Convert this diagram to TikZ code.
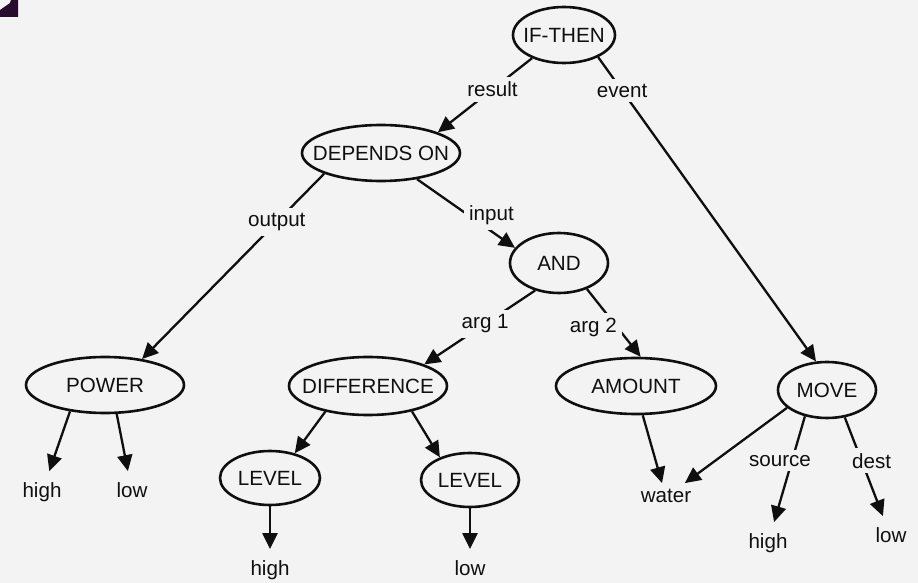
\documentclass[tikz,border=0pt]{standalone}
\usepackage{fontspec}
\setmainfont{Liberation Sans}
\usetikzlibrary{shapes.geometric,arrows.meta}
\definecolor{bgc}{RGB}{243,243,243}
\definecolor{inkc}{RGB}{15,15,15}
\definecolor{blobc}{RGB}{40,12,45}
\newcommand{\mkzero}[1]{\makebox[0pt]{#1}}
\begin{document}
\begin{tikzpicture}[x=0.5pt,y=-0.5pt,font=\fontsize{10.3}{12}\selectfont,
  ell/.style={ellipse,draw=inkc,line width=1.3pt,inner sep=0pt,text=inkc},
  lbl/.style={fill=bgc,inner sep=2.5pt,text=inkc},
  leaf/.style={inner sep=5.5pt,text height=7.5pt,text depth=2pt,text=inkc},
  arr/.style={draw=inkc,line width=1.15pt,-{Triangle[length=8pt,width=7.5pt]}}]
\fill[bgc] (0,0) rectangle (918,583);
\useasboundingbox (0,0) rectangle (918,583);
% scan fragment in the corner
\fill[blobc] (0,17) -- (0,10) -- (10,3) -- (11,0) -- (18,0) -- (18,17) -- cycle;

% concept nodes
\node[ell,minimum width=51pt,minimum height=28pt] (ifthen) at (564,35) {\mkzero{IF-THEN}};
\node[ell,minimum width=79pt,minimum height=28pt] (dep) at (381,153) {\mkzero{DEPENDS ON}};
\node[ell,minimum width=49pt,minimum height=30pt] (and) at (559,263) {\mkzero{AND}};
\node[ell,minimum width=79pt,minimum height=28pt] (power) at (105,385) {\mkzero{POWER}};
\node[ell,minimum width=79pt,minimum height=29pt] (diff) at (368,386) {\mkzero{DIFFERENCE}};
\node[ell,minimum width=50pt,minimum height=27pt] (lev1) at (270,478) {\mkzero{LEVEL}};
\node[ell,minimum width=49pt,minimum height=27pt] (lev2) at (470,480) {\mkzero{LEVEL}};
\node[ell,minimum width=80pt,minimum height=28pt] (amount) at (636,386) {\mkzero{AMOUNT}};
\node[ell,minimum width=49pt,minimum height=28pt] (move) at (827,390) {\mkzero{MOVE}};

% leaves
\node[leaf] (high1) at (42,492) {high};
\node[leaf] (low1) at (132,492) {low};
\node[leaf] (high2) at (270,570) {high};
\node[leaf] (low2) at (470,570) {low};
\node[leaf,inner sep=2pt] (water) at (666,497) {water};
\node[leaf] (high3) at (768,543) {high};
\node[leaf] (low3) at (891,537) {low};

% labelled relations
\draw[arr] (ifthen.216) -- node[lbl,pos=0.42]{result} (dep.20);
\draw[arr] (ifthen.327) -- node[lbl,pos=0.11]{event} (move.111);
\draw[arr] (dep.200) -- node[lbl,pos=0.26]{output} (power.35);
\draw[arr] (dep.324) -- node[lbl,pos=0.53,anchor=west,xshift=-3pt]{input} (and.161);
\draw[arr] (and.229) -- node[lbl,pos=0.45]{arg 1} (diff.21);
\draw[arr] (and.317) -- node[lbl,pos=0.56,anchor=east,xshift=3pt]{arg 2} (amount.81);
\draw[arr] (move.230) -- node[lbl,pos=0.42,xshift=-6pt]{source} (high3);
\draw[arr] (move.303) -- node[lbl,pos=0.44,xshift=5pt]{dest} (low3);

% plain relations
\draw[arr] (power.217) -- (high1);
\draw[arr] (power.292) -- (low1);
\draw[arr] (diff.211) -- (lev1.45);
\draw[arr] (diff.330) -- (lev2.143);
\draw[arr] (lev1) -- (high2);
\draw[arr] (lev2) -- (low2);
\draw[arr] (amount.283) -- (water);
\draw[arr] (move.204) -- (water);
\end{tikzpicture}
\end{document}
